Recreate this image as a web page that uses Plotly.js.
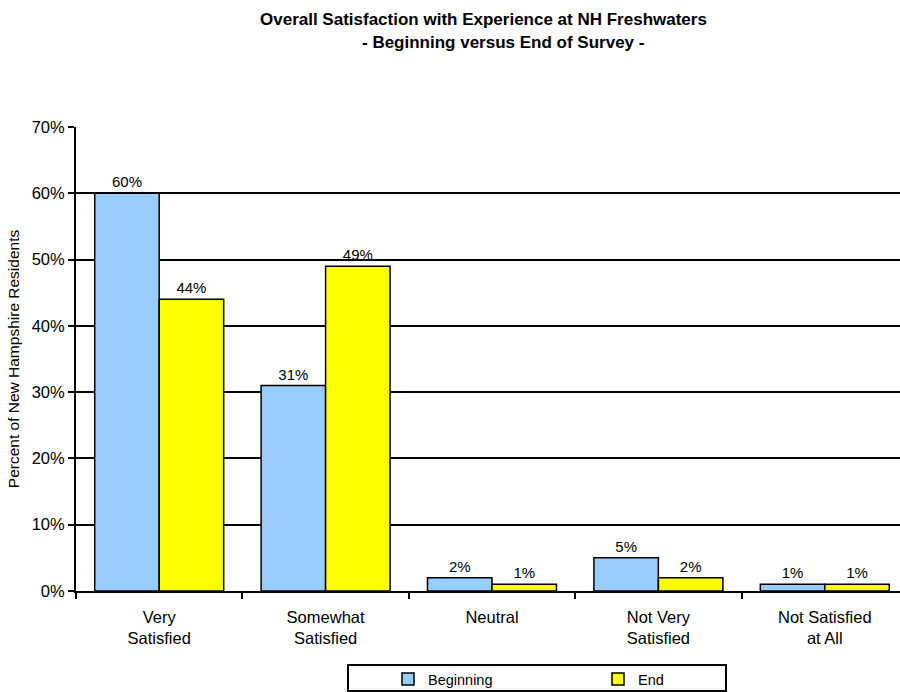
<!DOCTYPE html>
<html><head><meta charset="utf-8">
<script src="https://cdn.plot.ly/plotly-3.0.1.min.js"></script>
<style>html,body{margin:0;padding:0;background:#fff}</style>
</head><body><div id="chart" style="width:900px;height:692px"></div>
<script>
const categories = ["Very<br>Satisfied","Somewhat<br>Satisfied","Neutral","Not Very<br>Satisfied","Not Satisfied<br>at All"];
const beginning = [60, 31, 2, 5, 1];
const end = [44, 49, 1, 2, 1];
const seriesNames = ["Beginning", "End"];
const yTicks = [0,10,20,30,40,50,60,70];
const yTickText = yTicks.map(v => v + "%");

const font = "Liberation Sans, Arial, sans-serif";
const mk = (name, vals, color) => ({
  type: "bar", name: name, x: categories, y: vals,
  marker: {color: color, line: {color: "#000", width: 1.5}},
  text: vals.map(v => v + "%"), textposition: "outside", cliponaxis: false,
  textfont: {family: font, size: 15, color: "#000"}
});
const data = [mk(seriesNames[0], beginning, "#99CCFF"), mk(seriesNames[1], end, "#FFFF00")];

const layout = {
  width: 900, height: 692,
  margin: {l: 76, r: 0, t: 127, b: 101},
  paper_bgcolor: "#fff", plot_bgcolor: "#fff",
  font: {family: font, color: "#000"},
  bargap: 0.225, bargroupgap: 0,
  showlegend: true,
  legend: {orientation: "h", xref: "container", yref: "container",
    x: 388/900, xanchor: "left", y: 1 - 679/692, yanchor: "middle",
    borderwidth: 0, bgcolor: "rgba(0,0,0,0)",
    entrywidth: 165, entrywidthmode: "pixels",
    font: {family: font, size: 14.5, color: "#000"}},
  shapes: [
    {type: "rect", xref: "paper", yref: "paper",
     x0: (348-76)/824, x1: (726-76)/824, y0: -(691-591)/464, y1: -(665-591)/464,
     line: {color: "#000", width: 2}, fillcolor: "rgba(0,0,0,0)", layer: "below"}
  ],
  xaxis: {type: "category", range: [-0.5, 4.452], showgrid: false,
    showline: true, linecolor: "#000", linewidth: 2,
    tickson: "boundaries", ticks: "outside", ticklen: 6, tickwidth: 2, tickcolor: "#000",
    ticklabelstandoff: 10,
    tickfont: {family: font, size: 16.5, color: "#000"}, fixedrange: true},
  yaxis: {range: [0, 70], tickvals: yTicks, ticktext: yTickText,
    showgrid: true, gridcolor: "#000", gridwidth: 2,
    showline: true, linecolor: "#000", linewidth: 2,
    ticks: "outside", ticklen: 6, tickwidth: 2, tickcolor: "#000",
    tickfont: {family: font, size: 16.5, color: "#000"}, zeroline: false,
    title: {text: "Percent of New Hampshire Residents", font: {family: font, size: 15.5, color: "#000"}, standoff: 8}},
  annotations: [
    {text: "<b>Overall Satisfaction with Experience at NH Freshwaters</b>", xref: "paper", yref: "paper",
     x: (483-76)/824, y: 1 + (127-20)/464, xanchor: "center", yanchor: "middle", showarrow: false,
     font: {family: font, size: 17, color: "#000"}},
    {text: "<b>- Beginning versus End of Survey -</b>", xref: "paper", yref: "paper",
     x: (503-76)/824, y: 1 + (127-43)/464, xanchor: "center", yanchor: "middle", showarrow: false,
     font: {family: font, size: 17, color: "#000"}}
  ]
};
Plotly.newPlot("chart", data, layout, {displayModeBar: false, staticPlot: true});
</script></body></html>
